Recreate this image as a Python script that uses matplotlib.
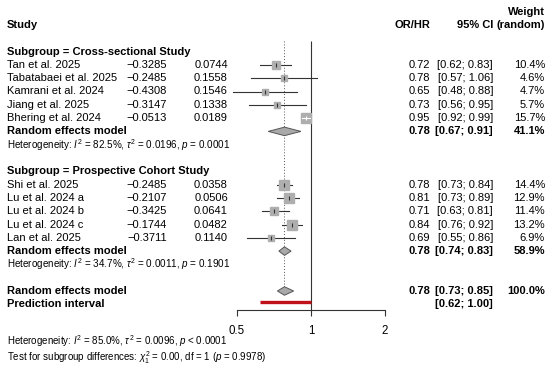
import numpy as np
import matplotlib
matplotlib.use('Agg')
import matplotlib.pyplot as plt

plt.rcParams['font.family'] = 'Liberation Sans'
plt.rcParams['mathtext.fontset'] = 'custom'
plt.rcParams['mathtext.rm'] = 'Liberation Sans'
plt.rcParams['mathtext.it'] = 'Liberation Sans:italic'
plt.rcParams['mathtext.bf'] = 'Liberation Sans:bold'

#%% data
cs_study = ["Tan et al. 2025", "Tabatabaei et al. 2025", "Kamrani et al. 2024",
            "Jiang et al. 2025", "Bhering et al. 2024"]
cs_te = ["−0.3285", "−0.2485", "−0.4308", "−0.3147", "−0.0513"]
cs_se = ["0.0744", "0.1558", "0.1546", "0.1338", "0.0189"]
cs_or = [0.72, 0.78, 0.65, 0.73, 0.95]
cs_lo = [0.62, 0.57, 0.48, 0.56, 0.92]
cs_hi = [0.83, 1.06, 0.88, 0.95, 0.99]
cs_w = [10.4, 4.6, 4.7, 5.7, 15.7]

pc_study = ["Shi et al. 2025", "Lu et al. 2024 a", "Lu et al. 2024 b",
            "Lu et al. 2024 c", "Lan et al. 2025"]
pc_te = ["−0.2485", "−0.2107", "−0.3425", "−0.1744", "−0.3711"]
pc_se = ["0.0358", "0.0506", "0.0641", "0.0482", "0.1140"]
pc_or = [0.78, 0.81, 0.71, 0.84, 0.69]
pc_lo = [0.73, 0.73, 0.63, 0.76, 0.55]
pc_hi = [0.84, 0.89, 0.81, 0.92, 0.86]
pc_w = [14.4, 12.9, 11.4, 13.2, 6.9]

# pooled: estimate, lower, upper, weight
re_cs = [0.78, 0.67, 0.91, 41.1]
re_pc = [0.78, 0.74, 0.83, 58.9]
re_all = [0.78, 0.73, 0.85, 100.0]
pred_int = [0.62, 1.00]

het_cs = r"Heterogeneity: $I^2$ = 82.5%, $\tau^2$ = 0.0196, $p$ = 0.0001"
het_pc = r"Heterogeneity: $I^2$ = 34.7%, $\tau^2$ = 0.0011, $p$ = 0.1901"
het_all = r"Heterogeneity: $I^2$ = 85.0%, $\tau^2$ = 0.0096, $p$ < 0.0001"
test_sub = r"Test for subgroup differences: $\chi^2_1$ = 0.00, df = 1 ($p$ = 0.9978)"
ticks = [0.5, 1, 2]

#%% layout (rows)
W, H = 550, 366
y0, dy = 25, 13.3
ytop, ybot = -y0 / dy, (H - y0) / dy
fs = 8.0
fs_small = 7.1

fig = plt.figure(figsize=(W / 100, H / 100), dpi=100)
ax = fig.add_axes([0, 0, 1, 1])
ax.set_xlim(0, W)
ax.set_ylim(ybot, ytop)
ax.axis('off')

# forest panel: 74 px per doubling, 0.5 at x=237
xl, xr = 0.4, 2.5
px_per_log2 = 74
fx0 = 237 - px_per_log2 * np.log2(0.5 / xl)
fw = px_per_log2 * np.log2(xr / xl)
axf = fig.add_axes([fx0 / W, 0, fw / W, 1])
axf.set_xscale('log')
axf.set_xlim(xl, xr)
axf.set_ylim(ybot, ytop)
axf.patch.set_alpha(0)
for s in ['top', 'right', 'left']:
    axf.spines[s].set_visible(False)
axis_row = (310 - y0) / dy
axf.spines['bottom'].set_position(('data', axis_row))
axf.spines['bottom'].set_bounds(0.5, 2)
axf.spines['bottom'].set_color('#333333')
axf.spines['bottom'].set_linewidth(0.8)
axf.set_yticks([])
axf.set_xticks(ticks)
axf.set_xticklabels([str(t) for t in ticks], fontsize=8.3)
axf.minorticks_off()
axf.tick_params(axis='x', direction='out', length=4.5, width=0.8, color='#333333', pad=6)

# columns (px)
x_study, x_te, x_se = 7, 167, 228
x_or, x_ci, x_w = 430, 493, 545


def txt(x, row, s, ha='left', bold=False, size=fs):
    ax.text(x, row, s, ha=ha, va='center', fontsize=size,
            fontweight='bold' if bold else 'normal')


def fmt_ci(lo, hi):
    return "[%.2f; %.2f]" % (lo, hi)


# header
txt(x_study, 0, "Study", bold=True)
txt(x_or, 0, "OR/HR", ha='right', bold=True)
txt(x_ci, 0, "95% CI", ha='right', bold=True)
txt(x_w, 0, "(random)", ha='right', bold=True)
txt(x_w, -1, "Weight", ha='right', bold=True)

wmax = 15.7
side_max = 10.5  # px


def diamond(re, r, h=0.32):
    axf.fill([re[1], re[0], re[2], re[0]], [r, r - h, r, r + h],
             facecolor='#a9a9a9', edgecolor='#555555', lw=0.7, zorder=3)


def draw_group(start, title, study, te, se, orr, lo, hi, w, re, het):
    txt(x_study, start, title, bold=True)
    for i in range(len(study)):
        r = start + 1 + i
        txt(x_study, r, study[i])
        txt(x_te, r, te[i], ha='right')
        txt(x_se, r, se[i], ha='right')
        txt(x_or, r, "%.2f" % orr[i], ha='right')
        txt(x_ci, r, fmt_ci(lo[i], hi[i]), ha='right')
        txt(x_w, r, "%.1f%%" % w[i], ha='right')
        side = side_max * np.sqrt(w[i] / wmax)
        # CI narrower than the square -> drawn white inside it
        ci_px = px_per_log2 * np.log2(hi[i] / lo[i])
        lc = 'white' if ci_px < side else '#333333'
        axf.plot([lo[i], hi[i]], [r, r], color='#333333', lw=0.8, zorder=2,
                 clip_on=False)
        axf.plot(orr[i], r, marker='s', ms=side * 0.72, color='#aeaeae',
                 mec='#aeaeae', zorder=3, clip_on=False)
        if lc == 'white':
            axf.plot([lo[i], hi[i]], [r, r], color='white', lw=0.8, zorder=4)
        axf.plot(orr[i], r, marker='|', ms=2.5, mew=0.8, color=lc, zorder=5)
    r = start + 1 + len(study)
    txt(x_study, r, "Random effects model", bold=True)
    txt(x_or, r, "%.2f" % re[0], ha='right', bold=True)
    txt(x_ci, r, fmt_ci(re[1], re[2]), ha='right', bold=True)
    txt(x_w, r, "%.1f%%" % re[3], ha='right', bold=True)
    diamond(re, r)
    txt(x_study, r + 1, het, size=fs_small)


draw_group(2, "Subgroup = Cross-sectional Study", cs_study, cs_te, cs_se,
           cs_or, cs_lo, cs_hi, cs_w, re_cs, het_cs)
draw_group(11, "Subgroup = Prospective Cohort Study", pc_study, pc_te, pc_se,
           pc_or, pc_lo, pc_hi, pc_w, re_pc, het_pc)

# overall
txt(x_study, 20, "Random effects model", bold=True)
txt(x_or, 20, "%.2f" % re_all[0], ha='right', bold=True)
txt(x_ci, 20, fmt_ci(re_all[1], re_all[2]), ha='right', bold=True)
txt(x_w, 20, "%.1f%%" % re_all[3], ha='right', bold=True)
diamond(re_all, 20)
txt(x_study, 21, "Prediction interval", bold=True)
txt(x_ci, 21, fmt_ci(pred_int[0], pred_int[1]), ha='right', bold=True)
axf.plot(pred_int, [20.85, 20.85], color='#c0111a', lw=2.4, solid_capstyle='butt',
         zorder=3)

# reference lines
top_row = (41 - y0) / dy
axf.vlines(1, top_row, axis_row, color='#333333', lw=0.8, zorder=1)
axf.vlines(re_all[0], top_row, 20 - 0.32, color='#555555', lw=0.7,
           linestyles=(0, (1, 2)), zorder=1)

# footer
txt(x_study, (341.5 - y0) / dy, het_all, size=7.0)
txt(x_study, (357.5 - y0) / dy, test_sub, size=7.0)

fig.savefig('out.png', dpi=100)
